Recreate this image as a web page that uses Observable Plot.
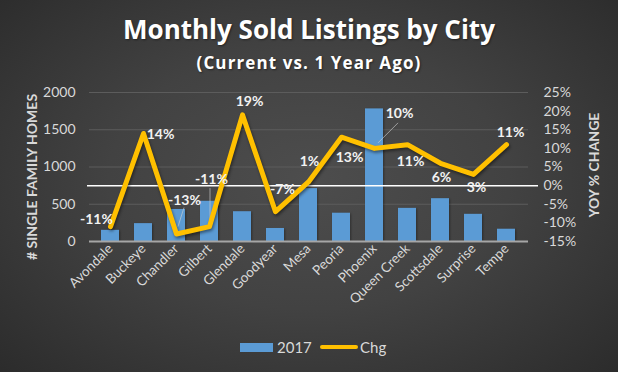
<!DOCTYPE html>
<html><head><meta charset="utf-8">
<script src="https://cdn.jsdelivr.net/npm/d3@7"></script>
<script src="https://cdn.jsdelivr.net/npm/@observablehq/plot@0.6"></script>
<style>
html,body{margin:0;padding:0;background:#2a2a2a;}
#chart{position:relative;width:618px;height:372px;overflow:hidden;
  background:radial-gradient(ellipse 72% 78% at 50% 48%, #4d4d4d 0%, #424242 45%, #2a2a2a 100%);
  font-family:Lato, sans-serif;}
#chart svg{position:absolute;left:0;top:0;}
#chart svg g[aria-label="line"] path{filter:drop-shadow(1px 2px 1.5px rgba(0,0,0,0.45));}
#chart svg g[aria-label="bar"]{filter:drop-shadow(1px 1px 1px rgba(0,0,0,0.35));}
.title{position:absolute;left:0;width:618px;text-align:center;color:#fff;font-family:"Open Sans",sans-serif;font-weight:700;text-shadow:1px 1px 2px rgba(0,0,0,0.45);}
#t1{top:12px;font-size:26px;line-height:34px;}
#t2{top:52px;font-size:17px;line-height:22px;letter-spacing:1.1px;}
.ytitle{position:absolute;color:#d9d9d9;font-weight:700;font-size:14px;white-space:nowrap;transform:translate(-50%,-50%) rotate(-90deg);}
#yl{left:31px;top:177px;}
#yr{left:593px;top:165px;}
#legend{position:absolute;top:337px;left:240px;height:20px;color:#d9d9d9;font-size:15px;}
#legend span{position:absolute;white-space:nowrap;}
</style></head><body>
<div id="chart">
  <div class="title" id="t1">Monthly Sold Listings by City</div>
  <div class="title" id="t2">(Current vs. 1 Year Ago)</div>
  <div class="ytitle" id="yl"># SINGLE FAMILY HOMES</div>
  <div class="ytitle" id="yr">YOY % CHANGE</div>
  <div id="legend">
    <span style="left:0;top:6px;width:33px;height:9px;background:#5B9BD5"></span>
    <span style="left:37px;top:0;line-height:20px">2017</span>
    <span style="left:80px;top:8px;width:38px;height:4px;border-radius:2px;background:#FFC000"></span>
    <span style="left:120px;top:0;line-height:20px">Chg</span>
  </div>
</div>
<script>
const cities = ["Avondale","Buckeye","Chandler","Gilbert","Glendale","Goodyear","Mesa","Peoria","Phoenix","Queen Creek","Scottsdale","Surprise","Tempe"];
const sold2017 = [150, 240, 430, 540, 400, 175, 710, 380, 1780, 445, 575, 365, 165];
const yoyChange = [-11, 14, -13, -11, 19, -7, 1, 13, 10, 11, 6, 3, 11];
const leftTicks = [0, 500, 1000, 1500, 2000];
const rightTicks = [-15, -10, -5, 0, 5, 10, 15, 20, 25];

const data = cities.map((c, i) => ({city: c, sold: sold2017[i], chg: yoyChange[i]}));
// secondary axis: -15%..25% mapped onto 0..2000
const toCount = p => (p + 15) * 50;
const fmtPct = p => `${p}%`;

// label offsets (px) mimicking Excel data-label placement
const labelOffset = {
  "Avondale": [-14, -7], "Buckeye": [17, 1], "Chandler": [8, -34], "Gilbert": [2, -47],
  "Glendale": [7, -13], "Goodyear": [7, -22], "Mesa": [1, -20], "Peoria": [8, 20],
  "Phoenix": [25, -35], "Queen Creek": [3, 17], "Scottsdale": [1, 14], "Surprise": [3, 13], "Tempe": [4, -12]
};
// leader lines for manually moved labels: [start offset, end offset] from the point (px)
const leaders = {
  "Chandler": [[2, -7], [8, -26]],
  "Gilbert": [[1, -4], [1, -38]],
  "Phoenix": [[4, -5], [24, -25]]
};

const labelMarks = data.map(d => Plot.text([d], {
  x: "city", y: dd => toCount(dd.chg), text: dd => fmtPct(dd.chg),
  dx: labelOffset[d.city][0], dy: labelOffset[d.city][1],
  fill: "#f2f2f2", fontWeight: "bold", fontSize: 14
}));

const leaderMark = (index, scales) => {
  const g = d3.create("svg:g").attr("aria-label", "leaders");
  const half = scales.x.bandwidth ? scales.x.bandwidth() / 2 : 0;
  data.filter(d => leaders[d.city]).forEach(d => {
    const px = scales.x(d.city) + half, py = scales.y(toCount(d.chg));
    const [[x1, y1], [x2, y2]] = leaders[d.city];
    g.append("line").attr("x1", px + x1).attr("y1", py + y1).attr("x2", px + x2).attr("y2", py + y2)
      .attr("stroke", "#d0d0d0").attr("stroke-opacity", 0.8).attr("stroke-width", 0.8);
  });
  return g.node();
};

const chart = Plot.plot({
  width: 618, height: 372,
  marginTop: 92, marginBottom: 131, marginLeft: 89, marginRight: 90,
  style: {background: "transparent", color: "#d9d9d9", fontFamily: "Lato, sans-serif", fontSize: "14px", overflow: "visible"},
  x: {domain: cities, paddingInner: 0.44, paddingOuter: 0.22, align: 0.5, label: null},
  y: {domain: [0, 2000], label: null},
  marks: [
    Plot.gridY(leftTicks.slice(1), {stroke: "#5c5c5c", strokeOpacity: 1}),
    Plot.barY(data, {x: "city", y: "sold", fill: "#5B9BD5"}),
    Plot.ruleY([0], {stroke: "#a6a6a6", strokeWidth: 2}),
    leaderMark,
    Plot.ruleY([toCount(0)], {stroke: "#ffffff", strokeWidth: 1.5, insetLeft: -2, insetRight: -10}),
    Plot.lineY(data, {x: "city", y: d => toCount(d.chg), stroke: "#FFC000", strokeWidth: 5}),
    Plot.axisY(leftTicks, {anchor: "left", tickSize: 0, tickPadding: 14, label: null, fontSize: 14, tickFormat: d => String(d)}),
    Plot.axisY(rightTicks.map(toCount), {anchor: "right", tickSize: 0, tickPadding: 15, label: null, fontSize: 14,
      tickFormat: v => fmtPct(Math.round(v / 50 - 15))}),
    Plot.axisX({tickRotate: -45, tickSize: 0, tickPadding: 5, label: null, fontSize: 13.5}),
    ...labelMarks
  ]
});
document.getElementById("chart").prepend(chart);
</script>
</body></html>
